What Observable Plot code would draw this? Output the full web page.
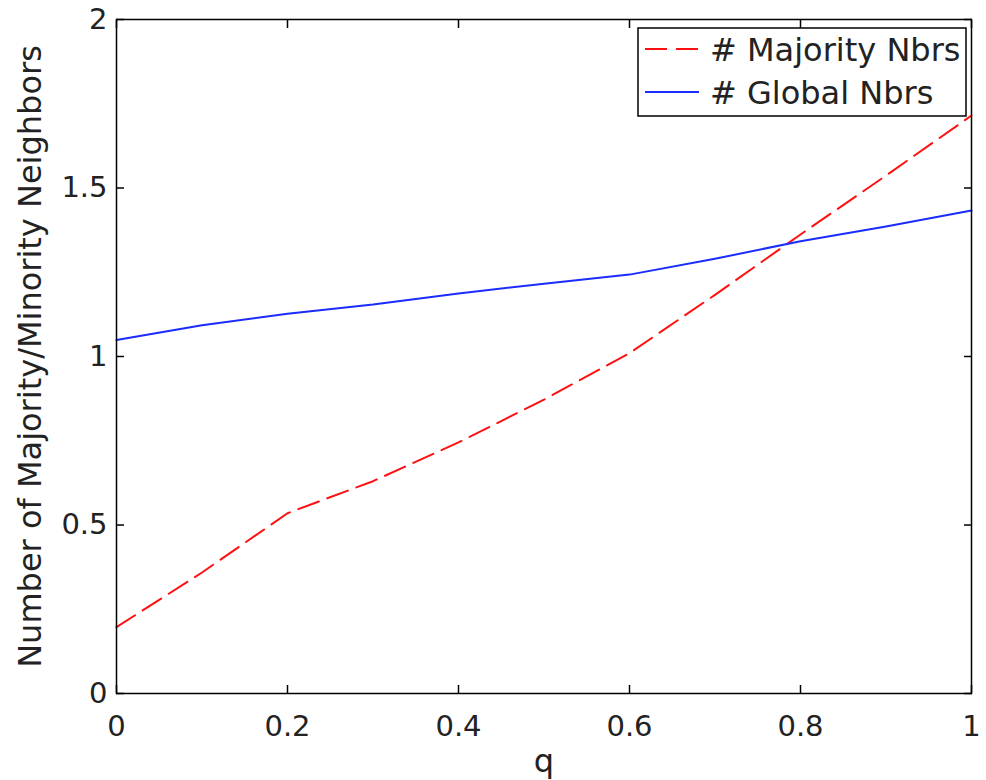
<!DOCTYPE html>
<html>
<head>
<meta charset="utf-8">
<script src="https://cdn.jsdelivr.net/npm/d3@7"></script>
<script src="https://cdn.jsdelivr.net/npm/@observablehq/plot@0.6"></script>
<style>
  html, body { margin: 0; padding: 0; background: #fff; }
  #chart { position: relative; width: 986px; height: 780px; }
</style>
</head>
<body>
<div id="chart"></div>
<script>
// Neighbour counts as a function of q
const q = [0, 0.1, 0.2, 0.3, 0.4, 0.5, 0.6, 0.7, 0.8, 0.9, 1.0];
const majorityNbrs = [0.197, 0.359, 0.535, 0.630, 0.745, 0.872, 1.010, 1.183, 1.362, 1.537, 1.715];
const globalNbrs = [1.049, 1.093, 1.127, 1.154, 1.187, 1.216, 1.243, 1.290, 1.342, 1.386, 1.433];

const xTicks = [0, 0.2, 0.4, 0.6, 0.8, 1];
const yTicks = [0, 0.5, 1, 1.5, 2];

const seriesNames = ["# Majority Nbrs", "# Global Nbrs"];
const xTitle = "q";
const yTitle = "Number of Majority/Minority Neighbors";

const rows = q.map((v, i) => ({q: v, majority: majorityNbrs[i], global: globalNbrs[i]}));

const font = "'DejaVu Sans', Verdana, sans-serif";
const fmt = d => String(d);

const chart = Plot.plot({
  width: 986,
  height: 780,
  marginLeft: 116,
  marginRight: 15,
  marginTop: 19,
  marginBottom: 87,
  style: {fontFamily: font, fontSize: "28px", color: "#222", background: "#fff"},
  x: {domain: [0, 1]},
  y: {domain: [0, 2]},
  marks: [
    Plot.line(rows, {x: "q", y: "majority", stroke: "#ff1010", strokeWidth: 2, strokeDasharray: "22,9"}),
    Plot.line(rows, {x: "q", y: "global", stroke: "#1a2cff", strokeWidth: 2}),
    Plot.frame({stroke: "#000", strokeWidth: 1.5}),
    // inward ticks on all four sides
    Plot.axisX({anchor: "bottom", ticks: xTicks, tickSize: -8, tickFormat: () => "", label: null, stroke: "#000", strokeWidth: 1.5}),
    Plot.axisX({anchor: "top", ticks: xTicks, tickSize: -8, tickFormat: () => "", label: null, stroke: "#000", strokeWidth: 1.5}),
    Plot.axisY({anchor: "left", ticks: yTicks, tickSize: -8, tickFormat: () => "", label: null, stroke: "#000", strokeWidth: 1.5}),
    Plot.axisY({anchor: "right", ticks: yTicks, tickSize: -8, tickFormat: () => "", label: null, stroke: "#000", strokeWidth: 1.5}),
    // tick labels
    Plot.axisX({anchor: "bottom", ticks: xTicks, tickSize: 0, tickPadding: 22, tickFormat: fmt, label: null, fill: "#222", fontSize: 29}),
    Plot.axisY({anchor: "left", ticks: yTicks, tickSize: 0, tickPadding: 9, tickFormat: fmt, label: null, fill: "#222", fontSize: 29}),
    // axis titles
    Plot.text([xTitle], {text: d => d, frameAnchor: "bottom", textAnchor: "middle", lineAnchor: "middle", dy: 68, fontSize: 32, fill: "#222"}),
    Plot.text([yTitle], {text: d => d, frameAnchor: "left", textAnchor: "middle", lineAnchor: "middle", rotate: -90, dx: -86, fontSize: 32, fill: "#222"})
  ]
});

document.getElementById("chart").appendChild(chart);

// legend box in the upper right corner of the frame
const svg = d3.select(chart);
const xr = chart.scale("x").range;
const yr = chart.scale("y").range;
const boxW = 328, boxH = 88;
const bx = xr[1] - 5 - boxW, by = yr[1] + 9;
const lg = svg.append("g").attr("font-family", font).attr("font-size", 32).attr("text-anchor", "start");
lg.append("rect").attr("x", bx).attr("y", by).attr("width", boxW).attr("height", boxH)
  .attr("fill", "#fff").attr("stroke", "#000").attr("stroke-width", 1.5);
const styles = [
  {stroke: "#ff1010", dash: "22,9"},
  {stroke: "#1a2cff", dash: null}
];
seriesNames.forEach((name, i) => {
  const cy = by + 21 + i * 43;
  lg.append("line").attr("x1", bx + 7).attr("x2", bx + 61).attr("y1", cy).attr("y2", cy)
    .attr("stroke", styles[i].stroke).attr("stroke-width", 2)
    .attr("stroke-dasharray", styles[i].dash);
  lg.append("text").attr("x", bx + 72).attr("y", cy).attr("dy", "0.36em")
    .attr("text-anchor", "start").attr("fill", "#222").text(name);
});
</script>
</body>
</html>
